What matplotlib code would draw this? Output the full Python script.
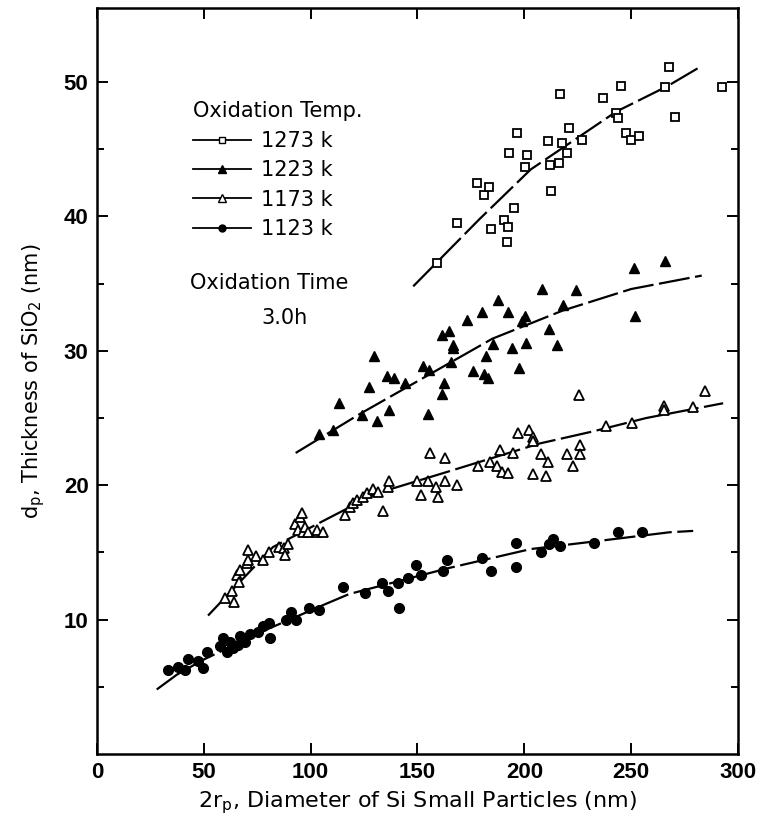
import matplotlib
matplotlib.use("Agg")
import matplotlib.pyplot as plt
from matplotlib.lines import Line2D
import numpy as np

plt.rcParams["font.family"] = ["DejaVu Sans"]

# ---- data (x: particle diameter nm, y: SiO2 thickness nm) ----
# 1273 K, open squares
x_1273 = [159, 168.5, 177.8, 181, 183.4, 184.4, 190.5, 191.9, 192.3, 192.8, 195,
          196.5, 200.3, 201.2, 211, 212, 212.5, 216, 216.7, 217.6, 220, 221, 227,
          236.8, 243, 244, 245, 247.5, 249.9, 253.6, 266, 267.7, 270.5, 292.5]
y_1273 = [36.5, 39.5, 42.5, 41.6, 42.2, 39.1, 39.7, 38.1, 39.2, 44.7, 40.6,
          46.2, 43.7, 44.6, 45.6, 43.8, 41.9, 44.0, 49.1, 45.5, 44.7, 46.6, 45.7,
          48.8, 47.7, 47.3, 49.7, 46.2, 45.7, 46.0, 49.6, 51.1, 47.4, 49.6]

# 1223 K, filled triangles
x_1223 = [103.9, 110.4, 113.2, 124, 127.3, 129.6, 131, 135.7, 136.6, 139, 144.3,
          152.5, 155.4, 155, 161.4, 162.4, 161.5, 164.7, 165.6, 166.6, 166.6, 173.1,
          176, 180.2, 181, 182, 183, 185.3, 187.6, 192.3, 194.2, 197.5, 198.9, 200.3,
          200.7, 208.2, 211.5, 215.3, 218, 224, 251.3, 251.8, 265.8]
y_1223 = [23.8, 24.1, 26.1, 25.2, 27.3, 29.6, 24.8, 28.1, 25.6, 28.0, 27.6,
          28.9, 28.6, 25.3, 26.8, 27.6, 31.2, 31.5, 29.2, 30.4, 30.2, 32.3,
          28.5, 32.9, 28.3, 29.6, 28.0, 30.5, 33.8, 32.9, 30.2, 28.7, 32.2, 32.6,
          30.6, 34.6, 31.6, 30.4, 33.4, 34.5, 36.2, 32.6, 36.7]

# 1173 K, open triangles
x_1173 = [60, 63.2, 64, 65.5, 66.4, 66.9, 70.2, 70.7, 70.7, 74.4, 77.7, 80.5,
          85.2, 87.5, 88, 89.4, 92.7, 94.1, 95, 95.9, 96.4, 97.3, 98.7, 102.9,
          103, 105.8, 116, 118.4, 119.8, 121.7, 124.5, 126.3, 129.2, 131.5, 133.8,
          136.2, 136.6, 149.7, 151.6, 154.9, 155.8, 158.6, 159.6, 162.8, 162.8,
          168.5, 178.3, 184, 187.2, 188.6, 189.5, 192.3, 194.7, 197, 202, 204,
          204, 204, 207.8, 210, 211, 220, 222.7, 225.5, 226, 226, 238.2, 250.3,
          265.3, 265.3, 279, 284.5]
y_1173 = [11.6, 12.1, 11.3, 13.3, 12.8, 13.7, 14.2, 14.4, 15.2, 14.7, 14.4, 15.0,
          15.4, 15.3, 14.8, 15.6, 17.1, 16.7, 17.6, 17.9, 16.5, 16.9, 16.5, 16.5,
          16.7, 16.5, 17.8, 18.4, 18.7, 18.9, 19.1, 19.4, 19.7, 19.5, 18.1,
          19.9, 20.3, 20.3, 19.3, 20.3, 22.4, 19.9, 19.1, 20.3, 22.0,
          20.0, 21.4, 21.7, 21.4, 22.6, 21.0, 20.9, 22.4, 23.9, 24.1, 23.6,
          23.3, 20.8, 22.3, 20.7, 21.7, 22.3, 21.4, 26.7, 23.0, 22.3, 24.4, 24.6,
          25.9, 25.6, 25.8, 27.0]

# 1123 K, filled circles
x_1123 = [33.2, 37.9, 41.2, 42.6, 47.3, 49.6, 51.5, 57.6, 59, 60.8, 62.2, 63.6,
          66, 66.9, 69.3, 71.6, 75.3, 77.7, 80.5, 81, 88.4, 90.8, 93.1, 99.2,
          103.9, 115, 125.4, 133.4, 136.2, 141, 141.3, 145.5, 149.3, 151.6, 161.9,
          163.8, 180.2, 184.4, 196, 196, 207.8, 211.5, 213.4, 216.7, 232.6, 243.8, 255]
y_1123 = [6.25, 6.5, 6.25, 7.1, 6.9, 6.4, 7.6, 8.0, 8.6, 7.6, 8.3, 7.9,
          8.1, 8.8, 8.3, 8.9, 9.1, 9.5, 9.75, 8.6, 10.0, 10.6, 10.0, 10.9,
          10.7, 12.4, 12.0, 12.7, 12.1, 12.7, 10.9, 13.1, 14.1, 13.3, 13.6,
          14.4, 14.6, 13.6, 15.7, 13.9, 15.0, 15.6, 16.0, 15.5, 15.7, 16.5, 16.5]

# hand-drawn trend curves
fit_x_1273 = [148, 179, 203, 243, 267, 283]
fit_y_1273 = [34.8, 39.8, 43.5, 47.8, 49.7, 51.2]
fit_x_1223 = [93, 123, 154, 185, 218, 250, 283]
fit_y_1223 = [22.4, 25.3, 28.1, 30.9, 33.0, 34.6, 35.6]
fit_x_1173 = [52, 82.4, 109, 131, 162, 207, 232, 257, 293]
fit_y_1173 = [10.3, 15.4, 17.6, 19.4, 20.9, 23.1, 24.0, 25.0, 26.1]
fit_x_1123 = [28, 37.4, 49.6, 80, 107.6, 118, 165, 203, 232, 268, 279]
fit_y_1123 = [4.8, 5.9, 7.0, 9.3, 11.2, 11.9, 13.85, 15.25, 15.8, 16.5, 16.6]

labels = ["1273 k", "1223 k", "1173 k", "1123 k"]

fig = plt.figure(figsize=(7.57, 8.16), dpi=100)
ax = fig.add_axes([0.128, 0.076, 0.847, 0.914])

dash = (0, (14, 2.5))
lw = 1.6
ms = 6.5

ax.plot(fit_x_1273, fit_y_1273, color="black", lw=lw, ls=dash)
ax.plot(fit_x_1223, fit_y_1223, color="black", lw=lw, ls=dash)
ax.plot(fit_x_1173, fit_y_1173, color="black", lw=lw, ls=dash)
ax.plot(fit_x_1123, fit_y_1123, color="black", lw=lw, ls=dash)

ax.plot(x_1273, y_1273, ls="none", marker="s", ms=ms - 0.5, mfc="white",
        mec="black", mew=1.3)
ax.plot(x_1223, y_1223, ls="none", marker="^", ms=ms + 0.5, mfc="black",
        mec="black", mew=1.0)
ax.plot(x_1173, y_1173, ls="none", marker="^", ms=ms + 0.5, mfc="white",
        mec="black", mew=1.3)
ax.plot(x_1123, y_1123, ls="none", marker="o", ms=ms + 0.5, mfc="black",
        mec="black", mew=1.0)

ax.set_xlim(0, 300)
ax.set_ylim(0, 55.5)
ax.set_xticks([0, 50, 100, 150, 200, 250, 300])
ax.set_yticks([10, 20, 30, 40, 50])
ax.set_yticks([5, 15, 25, 35, 45], minor=True)
ax.tick_params(which="both", direction="in", top=True, right=True, width=1.4)
ax.tick_params(which="major", length=8, pad=6)
ax.tick_params(which="minor", length=5)
for t in ax.get_xticklabels() + ax.get_yticklabels():
    t.set_family(["Liberation Sans", "DejaVu Sans"])
    t.set_fontweight("bold")
    t.set_fontsize(16)
for s in ax.spines.values():
    s.set_linewidth(1.8)

ax.set_xlabel(r"2r$_{\rm p}$, Diameter of Si Small Particles (nm)", fontsize=16,
              labelpad=4)
ax.set_ylabel(r"d$_{\rm p}$, Thickness of SiO$_2$ (nm)", fontsize=15, labelpad=12)

# legend
handles = [
    Line2D([], [], color="black", lw=1.3, marker="s", ms=5, mfc="white", mec="black"),
    Line2D([], [], color="black", lw=1.3, marker="^", ms=6, mfc="black", mec="black"),
    Line2D([], [], color="black", lw=1.3, marker="^", ms=6, mfc="white", mec="black"),
    Line2D([], [], color="black", lw=1.3, marker="o", ms=5, mfc="black", mec="black"),
]
leg = ax.legend(handles, labels, title="Oxidation Temp.", loc="upper left",
                bbox_to_anchor=(0.12, 0.9), frameon=False, fontsize=15,
                title_fontsize=15, handlelength=2.8, handletextpad=0.5,
                labelspacing=0.45, numpoints=1, alignment="left")

ax.text(0.145, 0.631, "Oxidation Time", transform=ax.transAxes, fontsize=15,
        va="center", ha="left")
ax.text(0.257, 0.584, "3.0h", transform=ax.transAxes, fontsize=15,
        va="center", ha="left")

fig.savefig("out.png", dpi=100)
